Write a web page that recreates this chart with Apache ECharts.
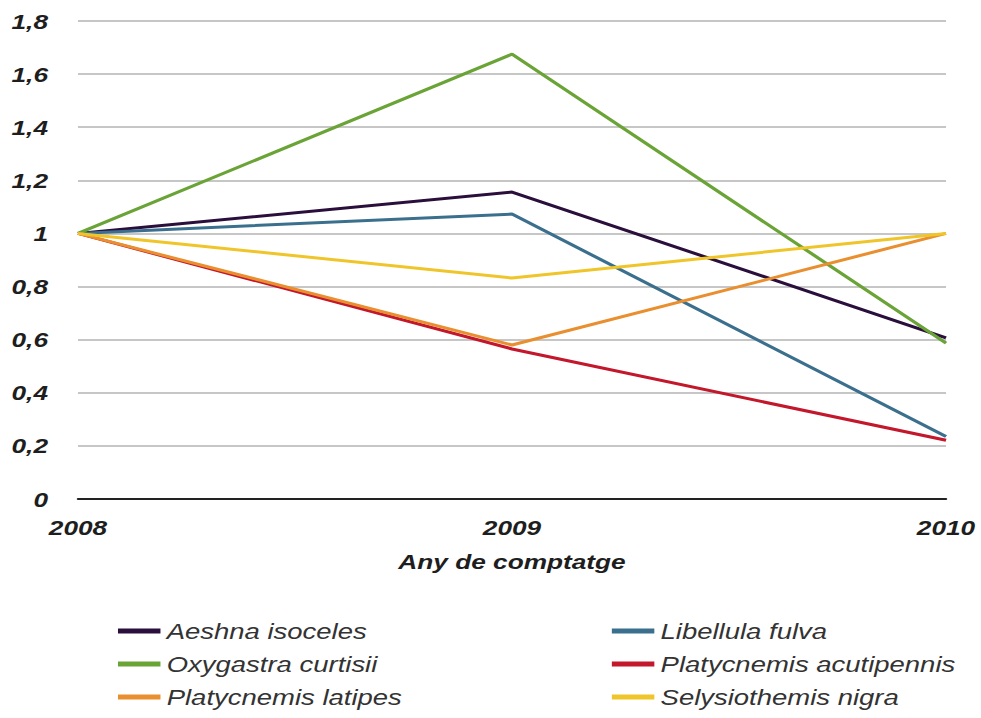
<!DOCTYPE html>
<html>
<head>
<meta charset="utf-8">
<script src="https://cdn.jsdelivr.net/npm/echarts@6/dist/echarts.min.js"></script>
<style>
  html, body { margin: 0; padding: 0; background: #fff; overflow: hidden; }
  #wrap { width: 981px; height: 718px; overflow: hidden; }
  /* the figure is drawn narrower and widened to the page width,
     giving the broad lettering of the printed chart */
  #chart { width: 785px; height: 718px; transform: scaleX(1.2497); transform-origin: 0 0; }
</style>
</head>
<body>
<div id="wrap"><div id="chart"></div></div>
<script>
// Years of the counts
const years = ['2008', '2009', '2010'];

// Relative abundance per species (2008 = 1)
const aeshnaIsoceles = [1, 1.156, 0.607];
const libellulaFulva = [1, 1.073, 0.235];
const oxygastraCurtisii = [1, 1.675, 0.587];
const platycnemisAcutipennis = [1, 0.565, 0.221];
const platycnemisLatipes = [1, 0.58, 1];
const selysiothemisNigra = [1, 0.832, 1];

const seriesNames = [
  'Aeshna isoceles', 'Libellula fulva', 'Oxygastra curtisii',
  'Platycnemis acutipennis', 'Platycnemis latipes', 'Selysiothemis nigra'
];
const seriesValues = [
  aeshnaIsoceles, libellulaFulva, oxygastraCurtisii,
  platycnemisAcutipennis, platycnemisLatipes, selysiothemisNigra
];
const seriesColors = ['#2a0f3c', '#3b6f8e', '#6aa336', '#c3172b', '#e98f2f', '#efc52a'];

const chart = echarts.init(document.getElementById('chart'), null, { renderer: 'svg' });

const legendText = { fontFamily: 'Liberation Sans', fontStyle: 'italic', fontSize: 22, color: '#333' };
const boldItalic = { fontFamily: 'Liberation Sans', fontStyle: 'italic', fontWeight: 'bold', fontSize: 21, color: '#1e1e1e' };

const legendBase = {
  orient: 'vertical',
  top: 620,
  padding: 0,
  icon: 'rect',
  itemWidth: 34,
  itemHeight: 5,
  itemGap: 11,
  textStyle: legendText
};

chart.setOption({
  animation: false,
  color: seriesColors,
  grid: { left: 62.4, right: 28, top: 21, bottom: 219, containLabel: false },
  xAxis: {
    type: 'category',
    data: years,
    boundaryGap: false,
    name: 'Any de comptatge',
    nameLocation: 'middle',
    nameGap: 52,
    nameTextStyle: boldItalic,
    axisLine: { lineStyle: { color: '#222', width: 2 } },
    axisTick: { show: false },
    axisLabel: Object.assign({ margin: 18 }, boldItalic),
    splitLine: { show: false }
  },
  yAxis: {
    type: 'value',
    min: 0,
    max: 1.8,
    interval: 0.2,
    axisLine: { show: false },
    axisTick: { show: false },
    axisLabel: Object.assign({
      margin: 24,
      formatter: v => String(Math.round(v * 10) / 10).replace('.', ',')
    }, boldItalic),
    splitLine: { lineStyle: { color: '#c6c6c6', width: 2 } }
  },
  legend: [
    Object.assign({
      data: ['Aeshna isoceles', 'Oxygastra curtisii', 'Platycnemis latipes'],
      left: 94.4
    }, legendBase),
    Object.assign({
      data: ['Libellula fulva', 'Platycnemis acutipennis', 'Selysiothemis nigra'],
      left: 489.6
    }, legendBase)
  ],
  series: seriesNames.map((name, i) => ({
    name,
    type: 'line',
    data: seriesValues[i],
    symbol: 'none',
    lineStyle: { width: 3, color: seriesColors[i] },
    itemStyle: { color: seriesColors[i] }
  }))
});
</script>
</body>
</html>
